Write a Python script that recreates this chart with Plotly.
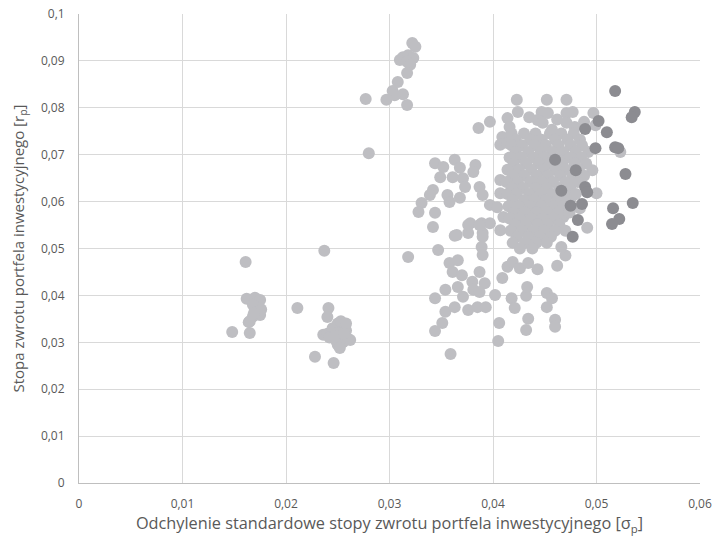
import plotly.graph_objects as go

# Light-grey portfolios (sigma_p, r_p)
light_pts = [
    # cluster near 0.016
    (0.0161, 0.0471), (0.0148, 0.0322), (0.0165, 0.0320), (0.0164, 0.0343),
    (0.0162, 0.0393), (0.0170, 0.0395), (0.0172, 0.0385), (0.0174, 0.0375),
    (0.0170, 0.0370), (0.0173, 0.0360), (0.0168, 0.0355), (0.0165, 0.0345),
    (0.0175, 0.0390), (0.0168, 0.0380), (0.0172, 0.0365), (0.0176, 0.0370),
    (0.0175, 0.0358), (0.0169, 0.0362),
    # cluster near 0.025
    (0.0211, 0.0373), (0.0237, 0.0495), (0.0241, 0.0373), (0.0240, 0.0354),
    (0.0228, 0.0269), (0.0246, 0.0256), (0.0236, 0.0316), (0.0260, 0.0307),
    (0.0240, 0.0318), (0.0245, 0.0330), (0.0250, 0.0340), (0.0255, 0.0335),
    (0.0258, 0.0325), (0.0252, 0.0315), (0.0248, 0.0305), (0.0255, 0.0300),
    (0.0250, 0.0295), (0.0245, 0.0325), (0.0253, 0.0345), (0.0258, 0.0340),
    (0.0242, 0.0310), (0.0262, 0.0305), (0.0250, 0.0320), (0.0247, 0.0312),
    (0.0256, 0.0318), (0.0252, 0.0288),
    # cluster near 0.031
    (0.0322, 0.0938), (0.0325, 0.0930), (0.0310, 0.0902), (0.0313, 0.0908),
    (0.0318, 0.0912), (0.0323, 0.0906), (0.0317, 0.0898), (0.0320, 0.0892),
    (0.0317, 0.0874), (0.0308, 0.0855), (0.0303, 0.0836), (0.0313, 0.0829),
    (0.0305, 0.0827), (0.0297, 0.0817), (0.0317, 0.0806), (0.0277, 0.0819),
    (0.0280, 0.0703),
    # top / edges of main cluster
    (0.0423, 0.0817), (0.0452, 0.0817), (0.0471, 0.0817), (0.0424, 0.0791),
    (0.0447, 0.0791), (0.0453, 0.0789), (0.0471, 0.0789), (0.0477, 0.0791),
    (0.0497, 0.0789), (0.0386, 0.0757), (0.0397, 0.0770), (0.0414, 0.0778),
    (0.0416, 0.0759), (0.0409, 0.0738), (0.0407, 0.0721), (0.0414, 0.0725),
    (0.0443, 0.0774), (0.0448, 0.0768), (0.0457, 0.0753), (0.0471, 0.0768),
    (0.0479, 0.0759), (0.0499, 0.0763), (0.0492, 0.0706), (0.0523, 0.0706),
    (0.0496, 0.0667), (0.0500, 0.0618), (0.0476, 0.0638), (0.0476, 0.0610),
    (0.0468, 0.0567), (0.0491, 0.0544), (0.0484, 0.0586), (0.0435, 0.0780),
    (0.0462, 0.0775), (0.0488, 0.0770),
    # left sub-cluster
    (0.0344, 0.0682), (0.0352, 0.0674), (0.0363, 0.0689), (0.0368, 0.0672),
    (0.0383, 0.0678), (0.0381, 0.0663), (0.0349, 0.0652), (0.0361, 0.0652),
    (0.0371, 0.0650), (0.0373, 0.0631), (0.0342, 0.0625), (0.0339, 0.0614),
    (0.0356, 0.0614), (0.0358, 0.0599), (0.0368, 0.0608), (0.0387, 0.0631),
    (0.0390, 0.0614), (0.0397, 0.0593), (0.0331, 0.0597), (0.0328, 0.0578),
    (0.0344, 0.0576), (0.0342, 0.0546), (0.0365, 0.0529), (0.0378, 0.0554),
    (0.0376, 0.0533), (0.0389, 0.0554), (0.0397, 0.0554), (0.0390, 0.0533),
    (0.0407, 0.0646), (0.0407, 0.0618), (0.0404, 0.0588), (0.0410, 0.0567),
    (0.0407, 0.0539),
    # lower scatter
    (0.0363, 0.0527), (0.0376, 0.0550), (0.0387, 0.0550), (0.0390, 0.0525),
    (0.0389, 0.0503), (0.0390, 0.0486), (0.0347, 0.0497), (0.0318, 0.0482),
    (0.0358, 0.0469), (0.0366, 0.0475), (0.0361, 0.0450), (0.0370, 0.0443),
    (0.0387, 0.0450), (0.0354, 0.0412), (0.0344, 0.0394), (0.0366, 0.0418),
    (0.0371, 0.0397), (0.0380, 0.0429), (0.0381, 0.0412), (0.0392, 0.0426),
    (0.0387, 0.0407), (0.0402, 0.0401), (0.0354, 0.0365), (0.0363, 0.0375),
    (0.0376, 0.0369), (0.0385, 0.0375), (0.0393, 0.0375), (0.0351, 0.0341),
    (0.0344, 0.0324), (0.0406, 0.0341), (0.0405, 0.0303), (0.0359, 0.0275),
    (0.0409, 0.0437), (0.0414, 0.0461), (0.0419, 0.0471), (0.0426, 0.0458),
    (0.0434, 0.0469), (0.0443, 0.0456), (0.0462, 0.0463), (0.0418, 0.0394),
    (0.0421, 0.0373), (0.0432, 0.0399), (0.0433, 0.0418), (0.0452, 0.0405),
    (0.0457, 0.0394), (0.0452, 0.0375), (0.0434, 0.0350), (0.0432, 0.0326),
    (0.0460, 0.0348), (0.0460, 0.0333), (0.0470, 0.0485), (0.0466, 0.0503),
    # dense core
    (0.0418, 0.0745), (0.0430, 0.0745), (0.0441, 0.0745), (0.0455, 0.0745), (0.0466, 0.0745), (0.0478, 0.0745),
    (0.0422, 0.0732), (0.0436, 0.0732), (0.0447, 0.0732), (0.0460, 0.0732), (0.0472, 0.0732), (0.0484, 0.0732),
    (0.0418, 0.0720), (0.0428, 0.0720), (0.0440, 0.0720), (0.0451, 0.0720), (0.0463, 0.0720), (0.0475, 0.0720), (0.0486, 0.0720),
    (0.0422, 0.0706), (0.0434, 0.0706), (0.0446, 0.0706), (0.0457, 0.0706), (0.0468, 0.0706), (0.0480, 0.0706),
    (0.0416, 0.0694), (0.0427, 0.0694), (0.0439, 0.0694), (0.0450, 0.0694), (0.0462, 0.0694), (0.0474, 0.0694), (0.0485, 0.0694),
    (0.0420, 0.0681), (0.0432, 0.0681), (0.0444, 0.0681), (0.0455, 0.0681), (0.0467, 0.0681), (0.0479, 0.0681), (0.0490, 0.0681),
    (0.0414, 0.0668), (0.0425, 0.0668), (0.0437, 0.0668), (0.0449, 0.0668), (0.0460, 0.0668), (0.0471, 0.0668), (0.0483, 0.0668),
    (0.0419, 0.0655), (0.0430, 0.0655), (0.0442, 0.0655), (0.0453, 0.0655), (0.0465, 0.0655), (0.0477, 0.0655), (0.0488, 0.0655),
    (0.0413, 0.0642), (0.0424, 0.0642), (0.0436, 0.0642), (0.0447, 0.0642), (0.0458, 0.0642), (0.0470, 0.0642), (0.0482, 0.0642),
    (0.0418, 0.0629), (0.0429, 0.0629), (0.0441, 0.0629), (0.0452, 0.0629), (0.0464, 0.0629), (0.0474, 0.0629),
    (0.0414, 0.0616), (0.0423, 0.0616), (0.0435, 0.0616), (0.0446, 0.0616), (0.0457, 0.0616), (0.0468, 0.0616), (0.0480, 0.0616),
    (0.0419, 0.0603), (0.0430, 0.0603), (0.0440, 0.0603), (0.0451, 0.0603), (0.0462, 0.0603), (0.0472, 0.0603),
    (0.0415, 0.0590), (0.0425, 0.0590), (0.0436, 0.0590), (0.0447, 0.0590), (0.0458, 0.0590), (0.0468, 0.0590),
    (0.0420, 0.0577), (0.0431, 0.0577), (0.0442, 0.0577), (0.0453, 0.0577), (0.0463, 0.0577), (0.0474, 0.0577),
    (0.0416, 0.0564), (0.0426, 0.0564), (0.0437, 0.0564), (0.0448, 0.0564), (0.0458, 0.0564),
    (0.0421, 0.0551), (0.0432, 0.0551), (0.0443, 0.0551), (0.0453, 0.0551), (0.0464, 0.0551),
    (0.0417, 0.0538), (0.0428, 0.0538), (0.0439, 0.0538), (0.0450, 0.0538), (0.0460, 0.0538), (0.0470, 0.0538),
    (0.0423, 0.0525), (0.0434, 0.0525), (0.0445, 0.0525), (0.0456, 0.0525),
    (0.0419, 0.0512), (0.0431, 0.0512), (0.0442, 0.0512), (0.0452, 0.0512),
    (0.0426, 0.0500), (0.0438, 0.0500),
]

# Dark-grey portfolios (sigma_p, r_p)
dark_pts = [
    (0.0518, 0.0836), (0.0537, 0.0791), (0.0534, 0.0780), (0.0502, 0.0772),
    (0.0489, 0.0755), (0.0510, 0.0748), (0.0499, 0.0714), (0.0518, 0.0716),
    (0.0521, 0.0714), (0.0460, 0.0689), (0.0480, 0.0667), (0.0528, 0.0659),
    (0.0489, 0.0631), (0.0491, 0.0620), (0.0466, 0.0623), (0.0475, 0.0591),
    (0.0486, 0.0595), (0.0535, 0.0597), (0.0516, 0.0586), (0.0482, 0.0561),
    (0.0522, 0.0563), (0.0515, 0.0552), (0.0477, 0.0525),
]

light_x = [p[0] for p in light_pts]
light_y = [p[1] for p in light_pts]
dark_x = [p[0] for p in dark_pts]
dark_y = [p[1] for p in dark_pts]

x_ticks = [0, 0.01, 0.02, 0.03, 0.04, 0.05, 0.06]
x_labels = ["0", "0,01", "0,02", "0,03", "0,04", "0,05", "0,06"]
y_ticks = [0, 0.01, 0.02, 0.03, 0.04, 0.05, 0.06, 0.07, 0.08, 0.09, 0.1]
y_labels = ["0", "0,01", "0,02", "0,03", "0,04", "0,05", "0,06", "0,07", "0,08", "0,09", "0,1"]

fig = go.Figure()
fig.add_trace(go.Scatter(x=light_x, y=light_y, mode="markers",
                         marker=dict(size=12, color="#BEBEC2", line=dict(width=0)),
                         showlegend=False, cliponaxis=False))
fig.add_trace(go.Scatter(x=dark_x, y=dark_y, mode="markers",
                         marker=dict(size=12, color="#8C8C91", line=dict(width=0)),
                         showlegend=False, cliponaxis=False))

font_family = "Open Sans, Lato, sans-serif"
fig.update_layout(
    width=712, height=546,
    margin=dict(l=79, r=12, t=14, b=63, autoexpand=False),
    paper_bgcolor="white", plot_bgcolor="white",
    font=dict(family=font_family, size=12, color="#595959"),
)
fig.update_xaxes(
    range=[0, 0.06], tickvals=x_ticks, ticktext=x_labels,
    showgrid=True, gridcolor="#D9D9D9", gridwidth=1,
    showline=True, linecolor="#BFBFBF", linewidth=1,
    zeroline=False, ticks="", ticklabelstandoff=10, automargin=False,
    title=dict(text="Odchylenie standardowe stopy zwrotu portfela inwestycyjnego [σ<sub>p</sub>]",
               font=dict(size=16.3, color="#595959"), standoff=6),
)
fig.update_yaxes(
    range=[0, 0.1], tickvals=y_ticks, ticktext=y_labels,
    showgrid=True, gridcolor="#D9D9D9", gridwidth=1,
    showline=True, linecolor="#BFBFBF", linewidth=1,
    zeroline=False, ticks="", ticklabelstandoff=11, automargin=False,
    title=dict(text="Stopa zwrotu portfela inwestycyjnego [r<sub>p</sub>]",
               font=dict(size=15, color="#595959"), standoff=12),
)

fig.write_html(
    "out.html",
    config={"displayModeBar": False},
    post_script="document.body.style.margin='0';document.body.style.overflow='hidden';",
)
